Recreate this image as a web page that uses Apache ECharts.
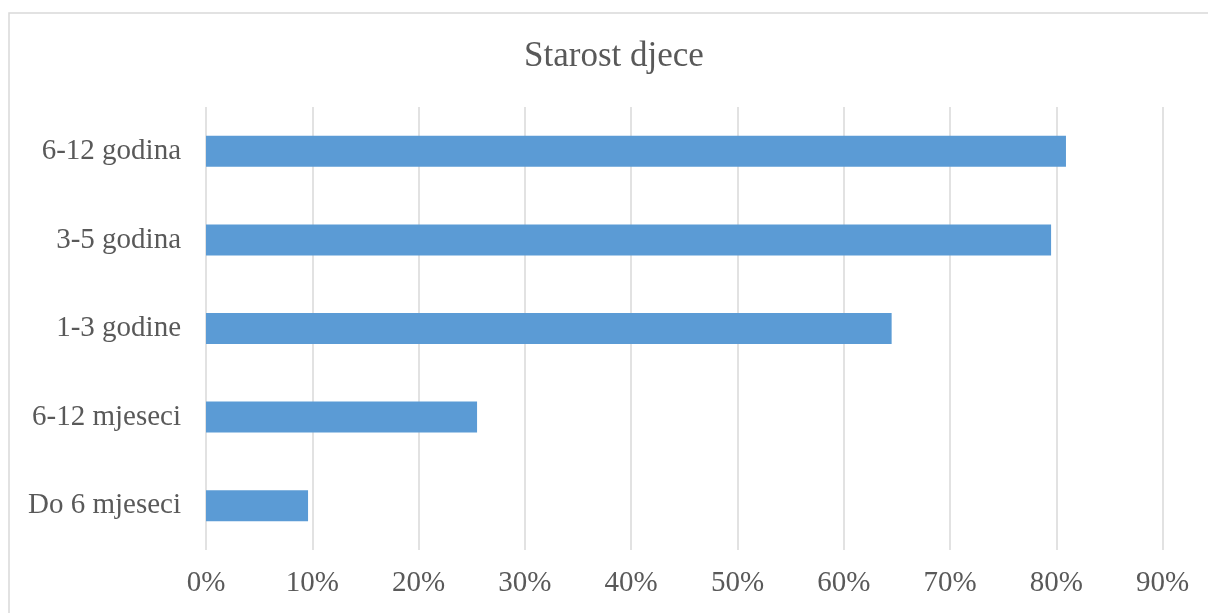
<!DOCTYPE html>
<html>
<head>
<meta charset="utf-8">
<script src="https://cdn.jsdelivr.net/npm/echarts@6/dist/echarts.min.js"></script>
<style>
html,body{margin:0;padding:0;background:#fff;}
#chart{width:1208px;height:613px;}
</style>
</head>
<body>
<div id="chart"></div>
<script>
var categories = ['6-12 godina', '3-5 godina', '1-3 godine', '6-12 mjeseci', 'Do 6 mjeseci'];
var values = [80.9, 79.5, 64.5, 25.5, 9.6];
var titleText = 'Starost djece';

var chart = echarts.init(document.getElementById('chart'));
var font = '"Liberation Serif", "Times New Roman", serif';
chart.setOption({
  animation: false,
  backgroundColor: '#fff',
  title: {
    text: titleText,
    left: 609,
    top: 34,
    textAlign: 'center',
    textStyle: {fontFamily: font, fontSize: 35, fontWeight: 'normal', color: '#595959'}
  },
  graphic: [{
    type: 'rect',
    shape: {x: 9, y: 13, width: 1400, height: 800},
    style: {fill: 'none', stroke: '#d9d9d9', lineWidth: 1.5},
    silent: true
  }],
  grid: {left: 206, right: 45.3, top: 107, bottom: 63, containLabel: false},
  xAxis: {
    type: 'value',
    min: 0, max: 90, interval: 10,
    axisLine: {show: false},
    axisTick: {show: false},
    axisLabel: {formatter: '{value}%', fontFamily: font, fontSize: 29, color: '#595959', margin: 19},
    splitLine: {show: true, lineStyle: {color: '#d9d9d9', width: 1.5}}
  },
  yAxis: {
    type: 'category',
    data: categories,
    inverse: true,
    axisLine: {show: false},
    axisTick: {show: false},
    axisLabel: {fontFamily: font, fontSize: 29, color: '#595959', margin: 25, padding: [11, 0, 0, 0]},
    splitLine: {show: false}
  },
  series: [{
    type: 'bar',
    data: values,
    barWidth: 31,
    itemStyle: {color: '#5b9bd5'}
  }]
});
</script>
</body>
</html>
